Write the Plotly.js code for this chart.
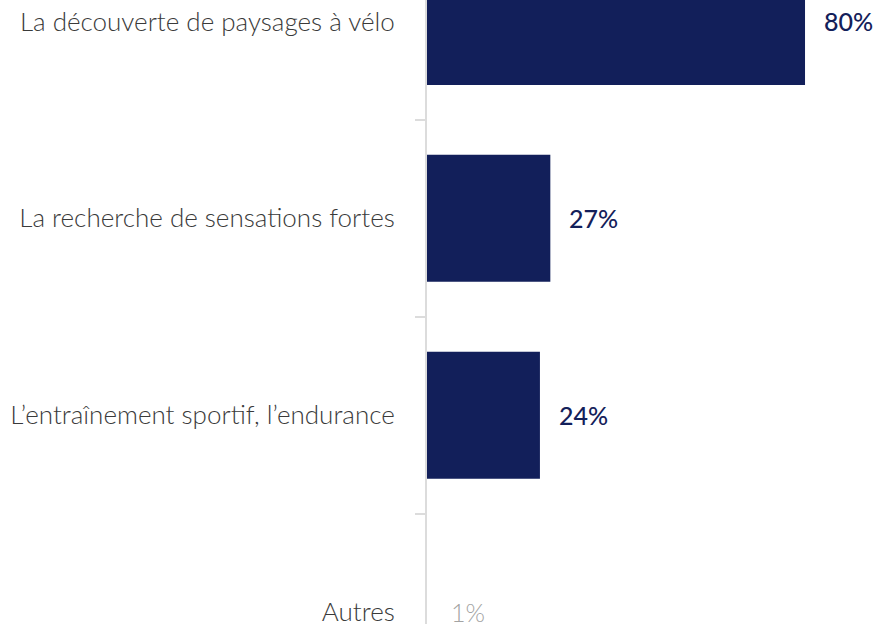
<!DOCTYPE html>
<html><head><meta charset="utf-8">
<script src="https://cdn.plot.ly/plotly-3.0.1.min.js"></script>
<style>html,body{margin:0;padding:0;background:#fff;}#chart{width:881px;height:624px;}</style>
</head><body><div id="chart"></div>
<script>
const categories = ["La découverte de paysages à vélo", "La recherche de sensations fortes", "L’entraînement sportif, l’endurance", "Autres"];
const values = [80, 26.1, 23.9, 1];
const labels = ["80%", "27%", "24%", "1%"];
const barColors = ["#121f5a", "#121f5a", "#121f5a", "rgba(255,255,255,0)"];
const labelColors = ["#13205a", "#13205a", "#13205a", "#a3a3a3"];

const FONT = "Lato, 'Open Sans', sans-serif";
const trace = {
  type: "bar", orientation: "h",
  y: categories, x: values,
  marker: {color: barColors},
  width: 0.645,
  hoverinfo: "none"
};
const annotations = categories.map((c, i) => ({
  x: values[i], y: c, xref: "x", yref: "y",
  text: labels[i], showarrow: false, xanchor: "left", yanchor: "middle",
  xshift: 17,
  font: {family: FONT, size: 25, color: labelColors[i], weight: i < 3 ? 500 : 300}
}));
const layout = {
  width: 881, height: 624,
  margin: {l: 427, r: 0, t: 0, b: 0, pad: 0},
  paper_bgcolor: "#fff", plot_bgcolor: "#fff",
  showlegend: false,
  xaxis: {range: [0, 96.08], visible: false, fixedrange: true},
  yaxis: {
    type: "category", range: [3.06, -0.109],
    showline: true, linecolor: "#dcdcdc", linewidth: 2,
    ticks: "outside", tickson: "boundaries", ticklen: 10, tickcolor: "#dcdcdc", tickwidth: 2,
    showgrid: false, zeroline: false,
    ticklabelstandoff: 25,
    tickfont: {family: FONT, size: 26, color: "#3a3a3a", weight: 300},
    automargin: false
  },
  annotations: annotations
};
Plotly.newPlot("chart", [trace], layout, {staticPlot: true, displayModeBar: false});
</script></body></html>
